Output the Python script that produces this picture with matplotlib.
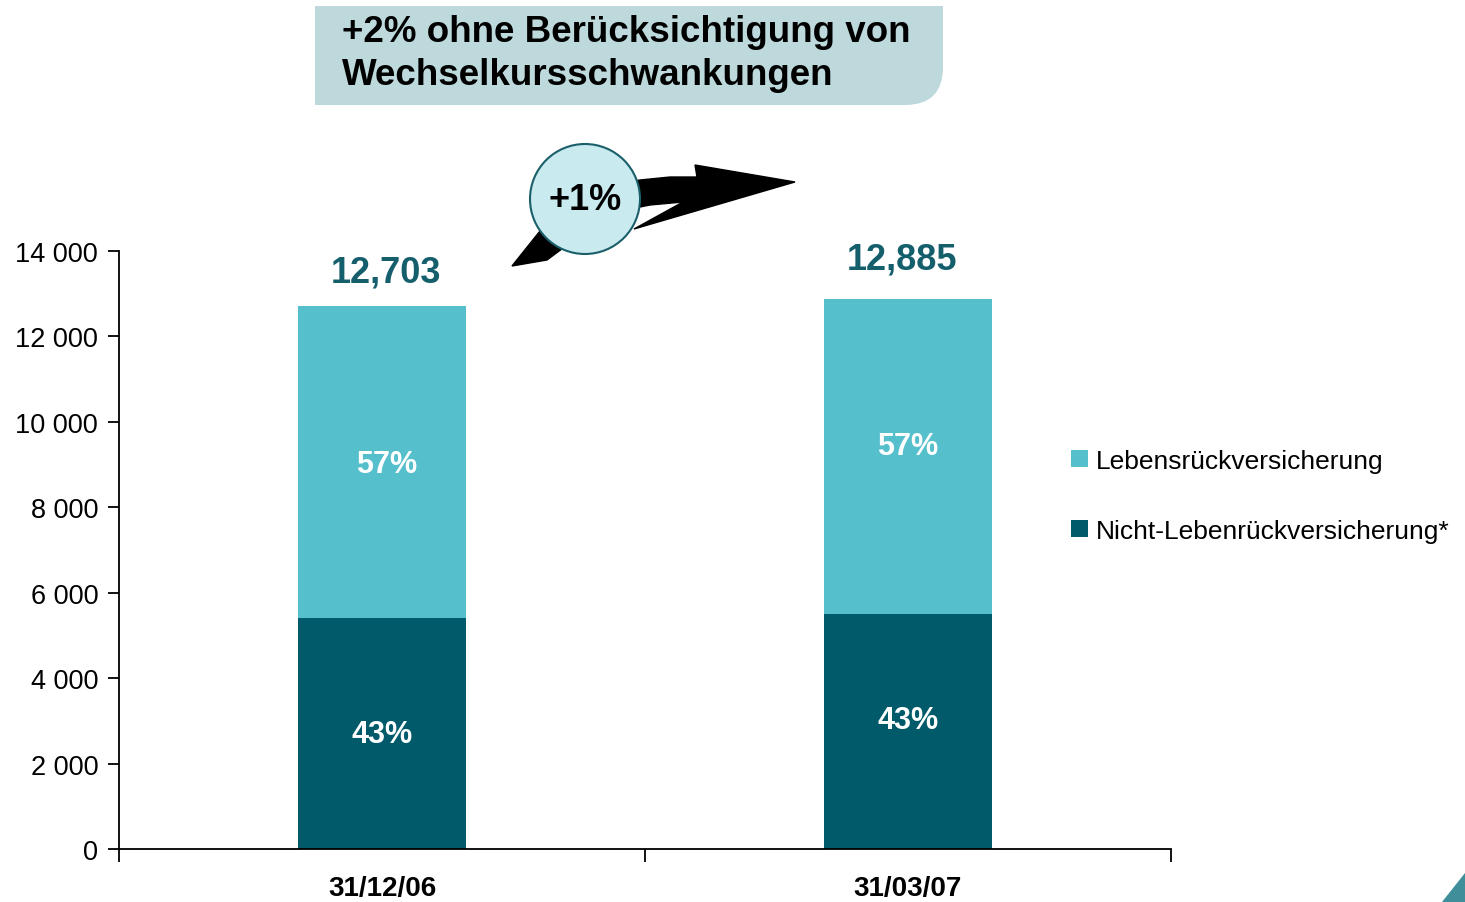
import matplotlib
matplotlib.use("Agg")
import matplotlib.pyplot as plt
from matplotlib.patches import Circle, PathPatch, Polygon
from matplotlib.path import Path
from matplotlib.ticker import FuncFormatter

# Data
dates = ["31/12/06", "31/03/07"]
nicht_leben = [5400, 5495]
leben = [7303, 7390]
totals = ["12,703", "12,885"]
pct_leben = ["57%", "57%"]
pct_nicht = ["43%", "43%"]
series_names = ["Lebensrückversicherung", "Nicht-Lebenrückversicherung*"]

LIGHT = "#56bfcc"
DARK = "#005a69"
W, H = 1465, 903

plt.rcParams["font.family"] = ["Liberation Sans", "DejaVu Sans"]

fig = plt.figure(figsize=(W / 100, H / 100), dpi=100)
ax = fig.add_axes([119 / W, 1 - 850 / H, (1171 - 119) / W, (850 - 252) / H])


def px(x, y):
    # pixel position (from top-left) to figure fraction
    return (x / W, 1 - y / H)


x = [0, 1]
b1 = ax.bar(x, nicht_leben, width=0.32, color=DARK, label=series_names[1])
b2 = ax.bar(x, leben, width=0.32, bottom=nicht_leben, color=LIGHT,
            label=series_names[0])

ax.set_xlim(-0.5, 1.5)
ax.set_ylim(0, 14000)
ax.set_yticks(range(0, 14001, 2000))
ax.yaxis.set_major_formatter(
    FuncFormatter(lambda v, p: f"{int(v):,}".replace(",", " ")))
ax.set_xticks([-0.5, 0.5, 1.5])
ax.set_xticklabels([])
ax.set_xticks(x, minor=True)
ax.set_xticklabels(dates, minor=True, fontsize=20, fontweight="bold")
ax.tick_params(axis="x", which="minor", length=0, pad=19)
ax.tick_params(axis="x", which="major", length=9, width=1.3, direction="out")
ax.tick_params(axis="y", length=8, width=1.3, labelsize=19.5, pad=7)
for s in ["top", "right"]:
    ax.spines[s].set_visible(False)
for s in ["left", "bottom"]:
    ax.spines[s].set_linewidth(1.3)

# labels inside and above bars
nudge = [0, -12]
top_off = [(4, 34), (-6, 40)]
for i in x:
    tot = nicht_leben[i] + leben[i]
    ax.annotate(totals[i], (i, tot), xytext=top_off[i],
                textcoords="offset pixels", ha="center", va="center",
                fontsize=26, fontweight="bold", color="#155e6c")
    ax.annotate(pct_leben[i], (i, nicht_leben[i] + leben[i] / 2),
                xytext=(5 if i == 0 else 0, -nudge[i] - 2),
                textcoords="offset pixels",
                ha="center", va="center", fontsize=22, fontweight="bold",
                color="white")
    ax.annotate(pct_nicht[i], (i, nicht_leben[i] / 2),
                xytext=(0, -nudge[i]), textcoords="offset pixels",
                ha="center", va="center", fontsize=22, fontweight="bold",
                color="white")

fig.legend([b2, b1], series_names, loc="upper left",
           bbox_to_anchor=px(1047, 426), frameon=False, fontsize=19,
           handlelength=0.65, handleheight=0.65, handletextpad=0.3,
           labelspacing=1.75)

# title box with rounded bottom-right corner
r = 38
x0, x1, y0, y1 = 315, 943, 7, 106
verts = [px(x0, y0), px(x1, y0), px(x1, y1 - r),
         px(x1, y1), px(x1 - r, y1),
         px(x0, y1), px(x0, y0)]
codes = [Path.MOVETO, Path.LINETO, Path.LINETO, Path.CURVE3, Path.CURVE3,
         Path.LINETO, Path.CLOSEPOLY]
fig.patches.append(PathPatch(Path(verts, codes), transform=fig.transFigure,
                             facecolor="#bdd9dc", edgecolor="none"))
fig.text(*px(342, 54), "+2% ohne Berücksichtigung von\nWechselkursschwankungen",
         fontsize=26.5, fontweight="bold", va="center", ha="left",
         linespacing=1.3)

# black curved arrow behind the circle
arrow = [
    (512, 267), (540, 232), (575, 198), (610, 186), (640, 181),
    (670, 178), (697, 178), (695, 166), (795, 183), (634, 230),
    (683, 203), (650, 206), (610, 214), (578, 238), (547, 261),
]
fig.patches.append(Polygon([px(a, b) for a, b in arrow], closed=True,
                           transform=fig.transFigure, facecolor="black",
                           edgecolor="black", linewidth=1))
cx, cy = px(585, 201)
fig.patches.append(Circle((585, H - 200), 55, transform=None,
                          facecolor="#c9eaee", edgecolor="#1a5f6a",
                          linewidth=1.5))
fig.text(cx, cy, "+1%", fontsize=26, fontweight="bold", ha="center",
         va="center")

# corner decoration
fig.patches.append(Polygon([px(1442, 903), px(1465, 874), px(1465, 903)],
                           closed=True, transform=fig.transFigure,
                           facecolor="#3f8f9a", edgecolor="none"))

fig.savefig("out.png", dpi=100)
